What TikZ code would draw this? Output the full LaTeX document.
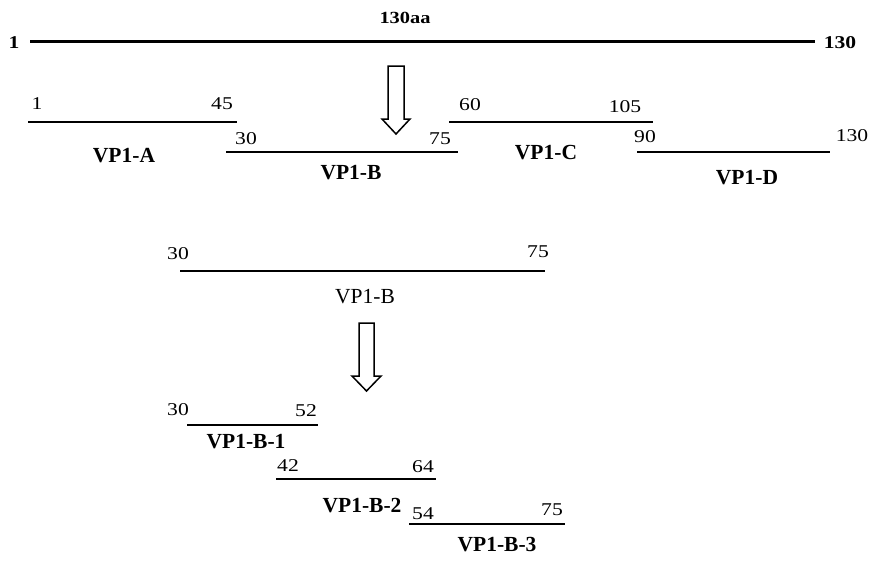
\documentclass[tikz,border=0pt]{standalone}
\usepackage{fontspec}
\setmainfont{Liberation Serif}
\newfontfamily\numfont{Liberation Serif}[FakeStretch=1.2]
\begin{document}
\begin{tikzpicture}[x=1pt,y=-1pt,
  seg/.style={line width=2.4pt},
  mainseg/.style={line width=3pt},
  num/.style={font=\numfont\fontsize{18}{20}\selectfont,inner sep=0pt},
  bnum/.style={font=\bfseries\numfont\fontsize{18}{20}\selectfont,inner sep=0pt},
  lab/.style={font=\bfseries\fontsize{21.5}{23}\selectfont,inner sep=0pt},
  labn/.style={font=\fontsize{21.5}{23}\selectfont,inner sep=0pt},
  hollow/.style={draw=black,fill=white,line width=1.5pt,line join=miter}]
\useasboundingbox (0,0) rectangle (872,562);
% main sequence
\coordinate (m1) at (30,41); \coordinate (m2) at (815,41);
\draw[mainseg] (m1) -- (m2);
\node[bnum] (n1) at (14,43) {1};
\node[bnum] (n130) at (840,43) {130};
\node[bnum,font=\bfseries\numfont\fontsize{17}{19}\selectfont] (naa) at (405,18) {130aa};
% arrow 1
\draw[hollow] (388,66) -- (404,66) -- (404,119) -- (410,119) -- (396,134) -- (382,119) -- (388,119) -- cycle;
% VP1-A
\coordinate (a1) at (28,122); \coordinate (a2) at (237,122);
\draw[seg] (a1) -- (a2);
\node[num] at (37,104) {1};
\node[num] at (222,104) {45};
\node[lab] (la) at (124,156) {VP1-A};
% VP1-B
\coordinate (b1) at (226,152); \coordinate (b2) at (458,152);
\draw[seg] (b1) -- (b2);
\node[num] at (246,139) {30};
\node[num] at (440,139) {75};
\node[lab] (lb) at (351,173) {VP1-B};
% VP1-C
\coordinate (c1) at (449,122); \coordinate (c2) at (653,122);
\draw[seg] (c1) -- (c2);
\node[num] at (470,105) {60};
\node[num] at (625,107) {105};
\node[lab] (lc) at (546,153) {VP1-C};
% VP1-D
\coordinate (d1) at (637,152); \coordinate (d2) at (830,152);
\draw[seg] (d1) -- (d2);
\node[num] at (645,137) {90};
\node[num] at (852,136) {130};
\node[lab] (ld) at (747,178) {VP1-D};
% middle VP1-B
\coordinate (e1) at (180,271); \coordinate (e2) at (545,271);
\draw[seg] (e1) -- (e2);
\node[num] at (178,254) {30};
\node[num] at (538,252) {75};
\node[labn] (le) at (365,297) {VP1-B};
% arrow 2
\draw[hollow] (359,323) -- (374,323) -- (374,376) -- (381,376) -- (366.5,391) -- (352,376) -- (359,376) -- cycle;
% VP1-B-1
\coordinate (f1) at (187,425); \coordinate (f2) at (318,425);
\draw[seg] (f1) -- (f2);
\node[num] at (178,410) {30};
\node[num] at (306,411) {52};
\node[lab] (lf) at (246,442) {VP1-B-1};
% VP1-B-2
\coordinate (g1) at (276,479); \coordinate (g2) at (436,479);
\draw[seg] (g1) -- (g2);
\node[num] at (288,466) {42};
\node[num] at (423,467) {64};
\node[lab] (lg) at (362,506) {VP1-B-2};
% VP1-B-3
\coordinate (h1) at (409,524); \coordinate (h2) at (565,524);
\draw[seg] (h1) -- (h2);
\node[num] at (423,514) {54};
\node[num] at (552,510) {75};
\node[lab] (lh) at (497,545) {VP1-B-3};
\end{tikzpicture}
\end{document}
